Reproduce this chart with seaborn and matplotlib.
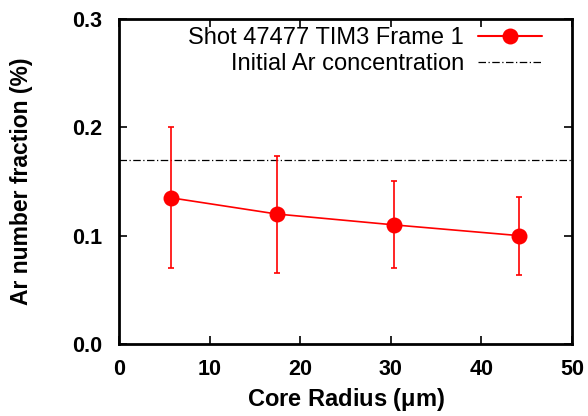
import matplotlib
matplotlib.use("Agg")
import matplotlib.pyplot as plt
import seaborn as sns
import numpy as np
import pandas as pd

radius = [5.7, 17.4, 30.3, 44.2]
fraction = [0.135, 0.120, 0.110, 0.100]
err_low = [0.070, 0.066, 0.070, 0.064]
err_high = [0.200, 0.174, 0.150, 0.136]
initial_ar = 0.17
series_label = "Shot 47477 TIM3 Frame 1"
line_label = "Initial Ar concentration"
xticks = [0, 10, 20, 30, 40, 50]
yticks = [0.0, 0.1, 0.2, 0.3]

sns.set_theme(style="ticks")
plt.rcParams['font.family'] = ['Liberation Sans', 'DejaVu Sans']
plt.rcParams['mathtext.fontset'] = 'custom'
plt.rcParams['mathtext.rm'] = 'Liberation Sans'
plt.rcParams['mathtext.bf'] = 'Liberation Sans:bold'
plt.rcParams['text.color'] = 'black'
plt.rcParams['axes.labelcolor'] = 'black'
plt.rcParams['xtick.color'] = 'black'
plt.rcParams['ytick.color'] = 'black'

df = pd.DataFrame({"radius": radius, "fraction": fraction})

fig = plt.figure(figsize=(5.88, 4.16), dpi=100)
ax = fig.add_axes([119/588, 72/416, (572-119)/588, (344-19)/416])

lower = np.array(fraction) - np.array(err_low)
upper = np.array(err_high) - np.array(fraction)

ax.errorbar(radius, fraction, yerr=[lower, upper], fmt='none', ecolor='red',
            elinewidth=1.2, capsize=2, capthick=1.2, zorder=2)
sns.lineplot(data=df, x="radius", y="fraction", color='red', marker='o',
             markersize=11.5, markeredgewidth=0, linewidth=1.2, ax=ax,
             legend=False, zorder=3)
ax.axhline(initial_ar, color='black', linestyle=(0, (6, 2, 1, 2)), linewidth=0.9, zorder=1)

# legend handles
eb = ax.errorbar([np.nan], [np.nan], xerr=[1], fmt='o-', color='red', markersize=11.5,
                 markeredgewidth=0, elinewidth=1.2, capsize=2, capthick=1.2,
                 label=series_label)
ln, = ax.plot([np.nan], [np.nan], color='black', linestyle=(0, (6, 2, 1, 2)),
              linewidth=0.9, label=line_label)
leg = ax.legend(handles=[eb, ln], labels=[series_label, line_label],
                loc='upper right', frameon=False, markerfirst=False,
                fontsize=17, handlelength=2.7, handletextpad=0.6,
                borderaxespad=0.0, borderpad=0.35, labelspacing=0.15,
                bbox_to_anchor=(0.952, 1.0))

ax.set_xlim(0, 50)
ax.set_ylim(0, 0.3)
ax.set_xticks(xticks)
ax.set_yticks(yticks)
ax.set_xticklabels([str(t) for t in xticks], fontweight='bold', fontsize=15.5)
ax.set_yticklabels([f"{t:.1f}" for t in yticks], fontweight='bold', fontsize=15.5)
ax.tick_params(direction='in', length=6, width=1.2, top=True, right=True)
ax.tick_params(axis='x', pad=11)
ax.tick_params(axis='y', pad=12)
for s in ax.spines.values():
    s.set_linewidth(2)
    s.set_color('black')
ax.set_xlabel(r"Core Radius ($\mathbf{\mu}$m)", fontweight='bold', fontsize=17, labelpad=4)
ax.set_ylabel("Ar number fraction (%)", fontweight='bold', fontsize=16.5, labelpad=28)

fig.savefig("out.png", dpi=100)
